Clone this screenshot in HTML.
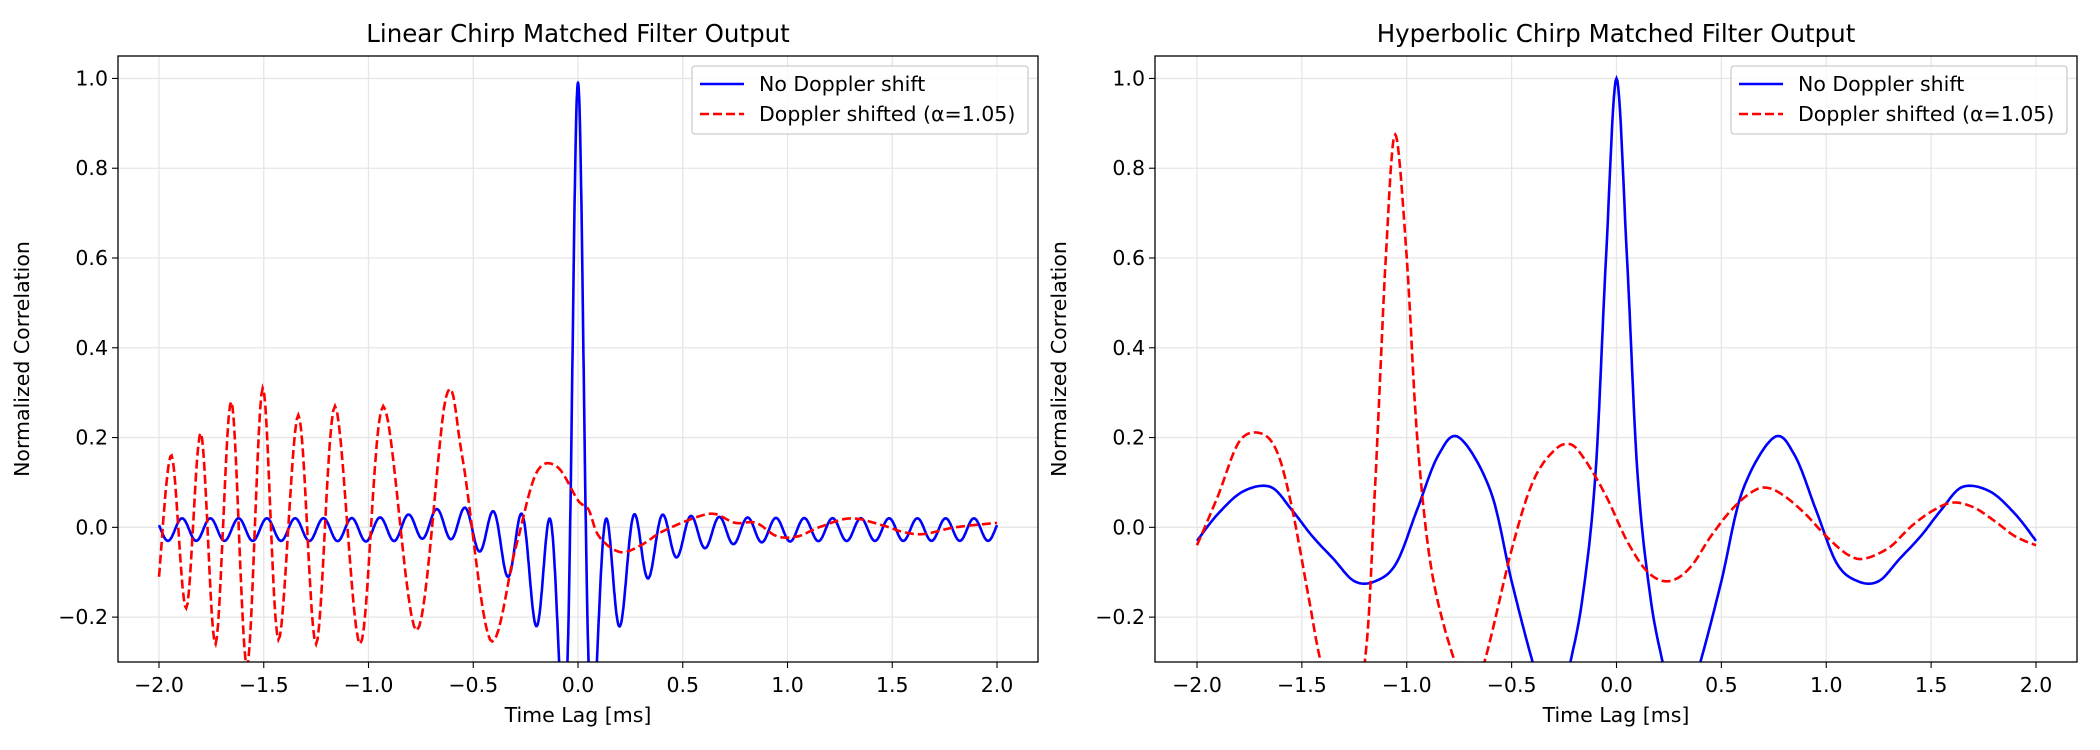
<!DOCTYPE html>
<html><head><meta charset="utf-8"><style>
html,body{margin:0;padding:0;background:#fff}
svg{display:block;font-family:"DejaVu Sans","Liberation Sans",sans-serif}
</style></head><body>
<svg id="s" width="2100" height="750" xmlns="http://www.w3.org/2000/svg"></svg>
<script>
const S=document.getElementById('s');
let h='';
const FS=20.5;
const Y0=56,Y1=662,yv=v=>Y0+(1.05-v)*(Y1-Y0)/1.35;
function catmull(pts){
  const out=[];
  for(let i=0;i<pts.length-1;i++){
    const p0=pts[Math.max(0,i-1)],p1=pts[i],p2=pts[i+1],p3=pts[Math.min(pts.length-1,i+2)];
    const n=12;
    for(let k=0;k<n;k++){const t=k/n,t2=t*t,t3=t2*t;
      const f=(a,b,c,d)=>0.5*((2*b)+(-a+c)*t+(2*a-5*b+4*c-d)*t2+(-a+3*b-3*c+d)*t3);
      out.push([f(p0[0],p1[0],p2[0],p3[0]),f(p0[1],p1[1],p2[1],p3[1])]);}
  }
  out.push(pts[pts.length-1]);return out;
}
function panel(L,R,xm2,x2,title,blue,red,legL,id){
  const xv=t=>xm2+(t+2)*(x2-xm2)/4;
  h+=`<clipPath id="c${id}"><rect x="${L}" y="${Y0}" width="${R-L}" height="${Y1-Y0}"/></clipPath>`;
  for(let t=-2;t<=2.001;t+=0.5){const x=xv(t);
    h+=`<line x1="${x}" y1="${Y0}" x2="${x}" y2="${Y1}" stroke="#e6e6e6" stroke-width="1.3"/>`;
    h+=`<line x1="${x}" y1="${Y1}" x2="${x}" y2="${Y1+6}" stroke="#000" stroke-width="1.1"/>`;
    h+=`<text x="${x}" y="${Y1+30}" font-size="${FS}" text-anchor="middle">${(t<0?'\u2212':'')+Math.abs(t).toFixed(1)}</text>`;}
  for(let v=-0.2;v<=1.001;v+=0.2){const y=yv(v);
    h+=`<line x1="${L}" y1="${y}" x2="${R}" y2="${y}" stroke="#e6e6e6" stroke-width="1.3"/>`;
    h+=`<line x1="${L-6}" y1="${y}" x2="${L}" y2="${y}" stroke="#000" stroke-width="1.1"/>`;
    h+=`<text x="${L-10}" y="${y+7}" font-size="${FS}" text-anchor="end">${(v<-0.01?'\u2212':'')+Math.abs(v).toFixed(1)}</text>`;}
  const path=p=>'M'+p.map(q=>xv(q[0]).toFixed(1)+','+yv(q[1]).toFixed(1)).join('L');
  h+=`<g clip-path="url(#c${id})"><path d="${path(blue)}" fill="none" stroke="#0000ff" stroke-width="2.6"/>`;
  h+=`<path d="${path(red)}" fill="none" stroke="#ff0000" stroke-width="2.6" stroke-dasharray="9,4"/></g>`;
  h+=`<rect x="${L}" y="${Y0}" width="${R-L}" height="${Y1-Y0}" fill="none" stroke="#000" stroke-width="1.3"/>`;
  h+=`<text x="${(L+R)/2}" y="42" font-size="24.5" text-anchor="middle">${title}</text>`;
  h+=`<text x="${(L+R)/2}" y="722" font-size="${FS}" text-anchor="middle">Time Lag [ms]</text>`;
  h+=`<text transform="translate(${L-89},${(Y0+Y1)/2}) rotate(-90)" font-size="${FS}" text-anchor="middle">Normalized Correlation</text>`;
  h+=`<rect x="${legL}" y="66" width="${R-10-legL}" height="68" rx="3" fill="#fff" fill-opacity="0.8" stroke="#cccccc" stroke-width="1.3"/>`;
  h+=`<line x1="${legL+8}" y1="84" x2="${legL+52}" y2="84" stroke="#0000ff" stroke-width="2.6"/>`;
  h+=`<line x1="${legL+8}" y1="114" x2="${legL+52}" y2="114" stroke="#ff0000" stroke-width="2.6" stroke-dasharray="9,4"/>`;
  h+=`<text x="${legL+67}" y="91" font-size="${FS}">No Doppler shift</text>`;
  h+=`<text x="${legL+67}" y="121" font-size="${FS}">Doppler shifted (α=1.05)</text>`;
}
// linear blue
const bl=[];for(let i=0;i<=4000;i++){const t=-2+i*0.001,a=Math.abs(t);
 const G=1.02*Math.exp(-Math.pow(t/0.035,2));
 const B=0.3*Math.exp(-a/0.18)+0.025;
 const D=0.35*Math.exp(-a/0.15);
 const base=(t<0&&t>-1.0)?0.02*Math.exp(-Math.pow((t+0.6)/0.2,2)):0;
 bl.push([t,G+B*Math.cos(2*Math.PI*t/0.135)-D+base-0.005]);}
const rl=catmull([[-2.0,-0.11],[-1.94,0.16],[-1.87,-0.18],[-1.80,0.21],[-1.73,-0.26],[-1.655,0.28],[-1.58,-0.31],[-1.505,0.31],[-1.43,-0.25],[-1.335,0.25],[-1.25,-0.26],[-1.16,0.27],[-1.04,-0.26],[-0.93,0.27],[-0.77,-0.23],[-0.63,0.29],[-0.55,0.15],[-0.42,-0.25],[-0.3,-0.05],[-0.2,0.12],[-0.1,0.135],[0.0,0.06],[0.05,0.04],[0.1,-0.02],[0.2,-0.055],[0.3,-0.04],[0.4,-0.01],[0.55,0.02],[0.65,0.03],[0.75,0.01],[0.85,0.01],[0.95,-0.02],[1.05,-0.02],[1.15,0.0],[1.3,0.02],[1.45,0.005],[1.55,-0.01],[1.65,-0.015],[1.8,0],[2.0,0.01]]);
const half=[[0,1.0],[0.05,0.6],[0.1,0.12],[0.16,-0.15],[0.22,-0.3],[0.3,-0.45],[0.4,-0.3],[0.5,-0.12],[0.6,0.08],[0.75,0.2],[0.85,0.16],[0.95,0.04],[1.05,-0.08],[1.15,-0.12],[1.25,-0.12],[1.35,-0.07],[1.45,-0.02],[1.55,0.04],[1.65,0.09],[1.78,0.08],[1.9,0.03],[2.0,-0.03]];
const bh=catmull(half.slice(1).reverse().map(p=>[-p[0],p[1]]).concat(half));
const rh=catmull([[-2,-0.04],[-1.9,0.07],[-1.8,0.19],[-1.7,0.21],[-1.62,0.17],[-1.55,0.05],[-1.47,-0.15],[-1.41,-0.3],[-1.3,-0.5],[-1.2,-0.3],[-1.15,0.1],[-1.1,0.6],[-1.055,0.875],[-1.0,0.6],[-0.95,0.2],[-0.88,-0.1],[-0.77,-0.3],[-0.7,-0.35],[-0.63,-0.3],[-0.5,-0.05],[-0.4,0.1],[-0.3,0.17],[-0.22,0.185],[-0.15,0.15],[-0.05,0.07],[0.05,-0.03],[0.15,-0.1],[0.25,-0.12],[0.35,-0.09],[0.45,-0.02],[0.55,0.04],[0.65,0.08],[0.72,0.088],[0.8,0.07],[0.9,0.03],[1.0,-0.02],[1.1,-0.06],[1.18,-0.07],[1.3,-0.045],[1.4,0.0],[1.5,0.035],[1.6,0.055],[1.7,0.045],[1.8,0.015],[1.9,-0.02],[2.0,-0.04]]);
panel(118,1038,159,997,'Linear Chirp Matched Filter Output',bl,rl,692,0);
panel(1155,2077,1197,2036,'Hyperbolic Chirp Matched Filter Output',bh,rh,1731,1);
S.innerHTML=h;
</script>
</body></html>
